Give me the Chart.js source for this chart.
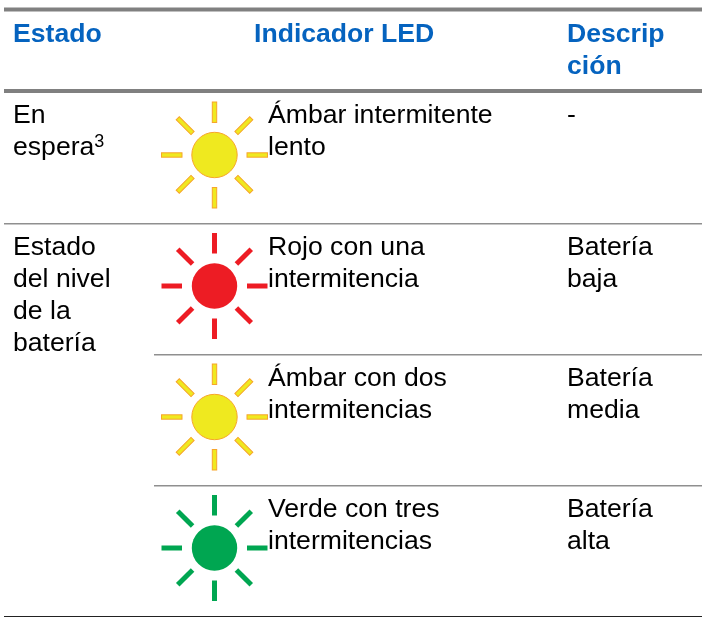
<!DOCTYPE html>
<html>
<head>
<meta charset="utf-8">
<style>
  html, body { margin: 0; padding: 0; background: #fff; }
  canvas { display: block; }
</style>
<script src="https://cdn.jsdelivr.net/npm/chart.js@4/dist/chart.umd.min.js"></script>
</head>
<body>
<canvas id="tablaLed" width="702" height="617"></canvas>
<script>
// Datos de la tabla
var columnas = ['Estado', 'Indicador LED', ['Descrip', 'ción']];
var filas = [0, 1, 2, 3];
var estados = [['En', 'espera'], ['Estado', 'del nivel', 'de la', 'batería'], [], []];
var indicadores = [
    ['Ámbar intermitente', 'lento'],
    ['Rojo con una', 'intermitencia'],
    ['Ámbar con dos', 'intermitencias'],
    ['Verde con tres', 'intermitencias']
];
var descripciones = [['-'], ['Batería', 'baja'], ['Batería', 'media'], ['Batería', 'alta']];
var columnaLed = [1, 1, 1, 1];
var tipoLed = ['ambar', 'rojo', 'ambar', 'verde'];

var coloresLed = {
    ambar: { fill: '#EFE91F', stroke: '#F7A52B', borde: true },
    rojo: { fill: '#ED1C24', stroke: '#ED1C24', borde: false },
    verde: { fill: '#00A651', stroke: '#00A651', borde: false }
};

// Icono del LED: circulo y ocho rayos
function crearIcono(color) {
    var c = document.createElement('canvas');
    c.width = 111;
    c.height = 110;
    var ctx = c.getContext('2d');
    ctx.translate(55.5, 55);
    ctx.fillStyle = color.fill;
    ctx.strokeStyle = color.stroke;
    ctx.lineWidth = 1;
    for (var i = 0; i < 8; i++) {
        ctx.save();
        ctx.rotate(i * Math.PI / 4);
        var ini = i % 2 ? 31 : 32.5;
        var largo = i % 2 ? 21 : 20.5;
        var ancho = color.borde ? 4.4 : 5;
        ctx.fillRect(ini, -ancho / 2, largo, ancho);
        if (color.borde) {
            ctx.strokeRect(ini, -ancho / 2, largo, ancho);
        }
        ctx.restore();
    }
    ctx.beginPath();
    ctx.arc(0, 0, 22.7, 0, Math.PI * 2);
    ctx.fill();
    if (color.borde) {
        ctx.stroke();
    }
    return c;
}

// Lineas y textos de la tabla
var pluginTabla = {
    id: 'tabla',
    beforeDatasetsDraw: function (chart) {
        var ctx = chart.ctx;
        var y = chart.scales.y;
        function linea(py, x0, grosor, color) {
            ctx.fillStyle = color;
            ctx.fillRect(x0, py, 702 - x0, grosor);
        }
        linea(7.5, 4, 4, '#808080');
        linea(89, 4, 4, '#808080');
        for (var f = 0; f < filas.length; f++) {
            var py = y.getPixelForValue(filas[f] + 0.52);
            var x0 = (f == 0 || f == 3) ? 4 : 154;
            linea(Math.round(py), x0, f == 3 ? 1 : 1.5, f == 3 ? '#222222' : '#8f8f8f');
        }
    },
    afterDatasetsDraw: function (chart) {
        var ctx = chart.ctx;
        var y = chart.scales.y;
        ctx.save();
        ctx.textBaseline = 'alphabetic';
        ctx.textAlign = 'left';
        var alto = 32;

        ctx.font = 'bold 26.6px "Liberation Sans"';
        ctx.fillStyle = '#0563BF';
        ctx.fillText(columnas[0], 13, 42);
        ctx.fillText(columnas[1], 254, 42);
        ctx.fillText(columnas[2][0], 567, 42);
        ctx.fillText(columnas[2][1], 567, 74);

        ctx.font = '26.6px "Liberation Sans"';
        ctx.fillStyle = '#000000';
        function bloque(lineas, x, fila) {
            var base = y.getPixelForValue(fila) - (fila == 0 ? 32 : 31);
            for (var i = 0; i < lineas.length; i++) {
                ctx.fillText(lineas[i], x, base + i * alto);
            }
        }
        for (var f = 0; f < filas.length; f++) {
            bloque(estados[f], 13, filas[f]);
            bloque(indicadores[f], 268, filas[f]);
            bloque(descripciones[f], 567, filas[f]);
        }
        // superindice de "espera"
        var anchoEspera = ctx.measureText(estados[0][1]).width;
        ctx.font = '18px "Liberation Sans"';
        ctx.fillText('3', 13 + anchoEspera, y.getPixelForValue(0) - 32 + alto - 8);
        ctx.restore();
    }
};

var contextoTabla = document.getElementById('tablaLed').getContext('2d');

var tablaLed = new Chart(contextoTabla, {
    type: 'scatter',
    data: {
        datasets: [{
            label: 'Indicador LED',
            data: filas.map(function (f, i) { return { x: columnaLed[i], y: f }; }),
            pointStyle: tipoLed.map(function (t) { return crearIcono(coloresLed[t]); }),
            pointRadius: 55,
            clip: false
        }]
    },
    options: {
        responsive: false,
        animation: false,
        layout: { padding: 0, autoPadding: false },
        plugins: { legend: { display: false }, tooltip: { enabled: false } },
        scales: {
            // columna 1 en x=214.5, filas separadas 131 px con la fila 0 en y=155
            x: { type: 'linear', display: false, min: 1 - 214.5 / 200, max: 1 + (702 - 214.5) / 200 },
            y: { type: 'linear', display: false, reverse: true, min: -155 / 131, max: (617 - 155) / 131 }
        }
    },
    plugins: [pluginTabla]
});
</script>
</body>
</html>
